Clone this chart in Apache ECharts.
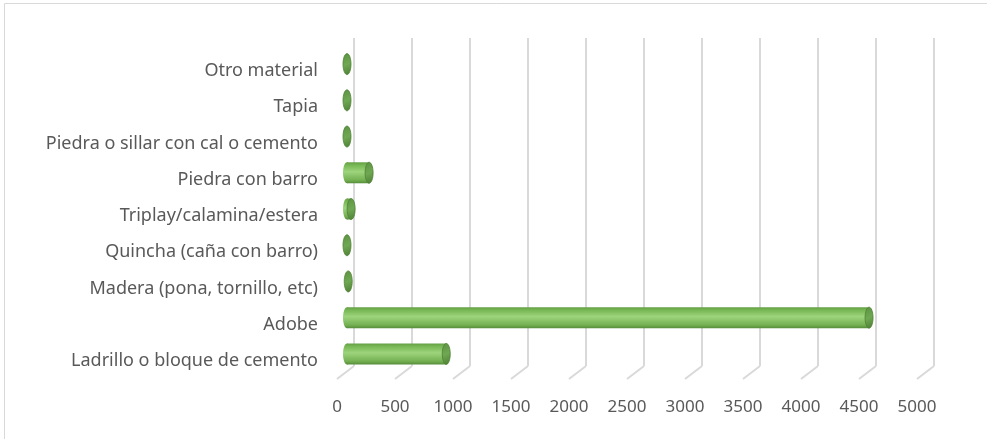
<!DOCTYPE html>
<html style="height: 100%">
<head>
    <meta charset="utf-8">
    <title>material</title>
    <script type="text/javascript" src="https://cdn.jsdelivr.net/npm/echarts@6/dist/echarts.min.js"></script>
    <style>
        html, body {
            margin: 0;
            height: 100%;
            background: #ffffff;
        }
        #main {
            width: 987px;
            height: 439px;
        }
    </style>
</head>
<body>
    <div id="main"></div>
    <script type="text/javascript">
        // categories, bottom -> top
        var categorias = ['Ladrillo o bloque de cemento', 'Adobe', 'Madera (pona, tornillo, etc)',
            'Quincha (caña con barro)', 'Triplay/calamina/estera', 'Piedra con barro',
            'Piedra o sillar con cal o cemento', 'Tapia', 'Otro material'];
        var viviendas = [890, 4535, 45, 15, 70, 225, 20, 25, 20];
        var ticks = [0, 500, 1000, 1500, 2000, 2500, 3000, 3500, 4000, 4500, 5000];

        var txtColor = '#595959';
        var fontFam = "'Noto Sans', sans-serif";
        var gridColor = '#d9d9d9';

        var chart = echarts.init(document.getElementById('main'));

        var option = {
            animation: false,
            graphic: [{
                type: 'rect',
                shape: { x: 4.5, y: 3.5, width: 1000, height: 500 },
                style: { fill: 'none', stroke: '#d9d9d9', lineWidth: 1 },
                silent: true
            }],
            grid: [
                // back wall (gridlines)
                { left: 354, top: 38, width: 580, height: 328 },
                // bars
                { left: 343, top: 46, width: 580, height: 326 },
                // labels (front floor edge)
                { left: 337, top: 53, width: 580, height: 326 }
            ],
            xAxis: [{
                gridIndex: 0, type: 'value', min: 0, max: 5000, interval: 500,
                axisLine: { show: false }, axisTick: { show: false }, axisLabel: { show: false },
                splitLine: { show: true, lineStyle: { color: gridColor, width: 2 } }
            }, {
                gridIndex: 1, type: 'value', min: 0, max: 5000, interval: 500, show: false
            }, {
                gridIndex: 2, type: 'value', min: 0, max: 5000, interval: 500,
                axisLine: { show: false }, axisTick: { show: false }, splitLine: { show: false },
                axisLabel: {
                    color: txtColor, fontFamily: fontFam, fontSize: 17, margin: 20,
                    formatter: function (v) { return String(v); }
                }
            }],
            yAxis: [{
                gridIndex: 0, type: 'category', data: categorias, show: false
            }, {
                gridIndex: 1, type: 'category', data: categorias, show: false
            }, {
                gridIndex: 2, type: 'category', data: categorias,
                axisLine: { show: false }, axisTick: { show: false },
                axisLabel: { color: txtColor, fontFamily: fontFam, fontSize: 18, margin: 19 }
            }],
            series: [{
                // diagonal floor lines under each gridline
                type: 'custom',
                xAxisIndex: 0, yAxisIndex: 0,
                silent: true,
                data: ticks,
                renderItem: function (params, api) {
                    var x = api.coord([api.value(0), 0])[0];
                    var yb = params.coordSys.y + params.coordSys.height;
                    return {
                        type: 'line',
                        shape: { x1: x, y1: yb, x2: x - 17, y2: yb + 13 },
                        style: { stroke: gridColor, lineWidth: 2 }
                    };
                }
            }, {
                // cylinders
                type: 'custom',
                xAxisIndex: 1, yAxisIndex: 1,
                data: viviendas.map(function (v, i) { return [v, i]; }),
                encode: { x: 0, y: 1 },
                renderItem: function (params, api) {
                    var p0 = api.coord([0, api.value(1)]);
                    var p1 = api.coord([api.value(0), api.value(1)]);
                    var h = 21;
                    var rx = 4;
                    var y0 = p0[1] - h / 2;
                    var bodyFill = new echarts.graphic.LinearGradient(0, 0, 0, 1, [
                        { offset: 0, color: '#639f45' },
                        { offset: 0.15, color: '#78b855' },
                        { offset: 0.45, color: '#9dd47c' },
                        { offset: 0.85, color: '#74b052' },
                        { offset: 1, color: '#558c3a' }
                    ]);
                    var capFill = new echarts.graphic.LinearGradient(0, 0, 1, 1, [
                        { offset: 0, color: '#5b9141' },
                        { offset: 0.5, color: '#6fa852' },
                        { offset: 1, color: '#4c7d33' }
                    ]);
                    var len = Math.max(p1[0] - p0[0], 0);
                    var children = [];
                    if (len > 2 * rx) {
                        children.push({
                            type: 'ellipse',
                            shape: { cx: p0[0] + rx, cy: p0[1], rx: rx, ry: h / 2 },
                            style: { fill: bodyFill }
                        }, {
                            type: 'rect',
                            shape: { x: p0[0] + rx, y: y0, width: len - rx, height: h },
                            style: { fill: bodyFill }
                        });
                    }
                    children.push({
                        type: 'ellipse',
                        shape: { cx: Math.max(p1[0], p0[0] + rx), cy: p1[1], rx: rx, ry: h / 2 },
                        style: { fill: capFill, stroke: '#4e8034', lineWidth: 0.8 }
                    });
                    return { type: 'group', children: children };
                }
            }]
        };

        chart.setOption(option);
    </script>
</body>
</html>
